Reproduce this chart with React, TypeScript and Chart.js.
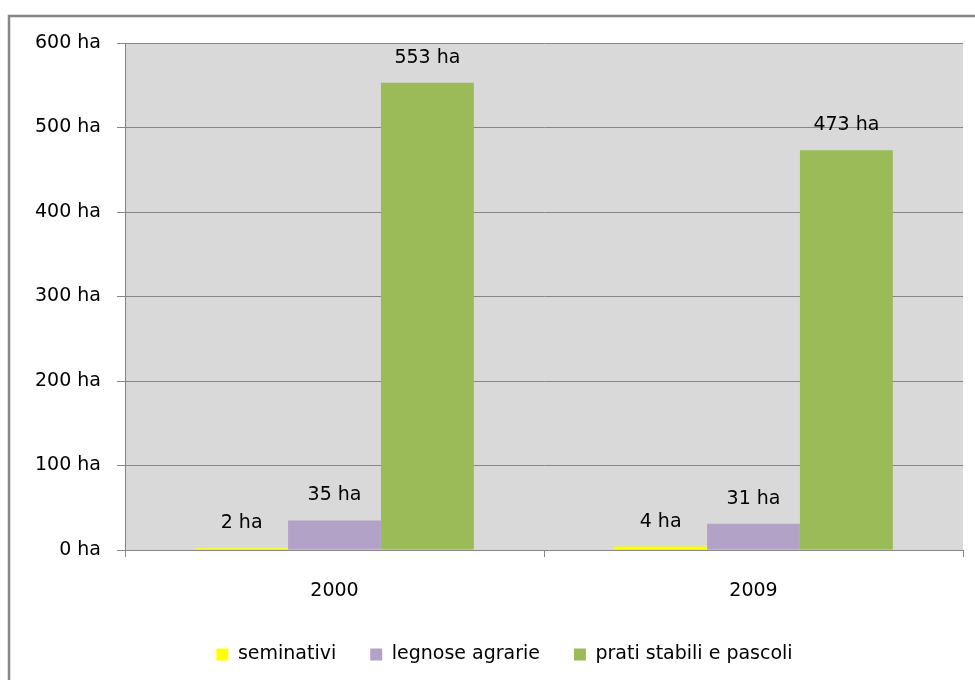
import React, { useEffect, useRef } from "react";
import { Chart, registerables } from "chart.js";

Chart.register(...registerables);

const categories = ["2000", "2009"];
const seriesNames = ["seminativi", "legnose agrarie", "prati stabili e pascoli"];
const seminativi = [2, 4];
const legnose = [35, 31];
const prati = [553, 473];
const seriesColors = ["#ffff00", "#b3a2c7", "#9bbb59"];
const yTicks = [0, 100, 200, 300, 400, 500, 600];

const FONT = "'DejaVu Sans'";
const SIZE = 19;

const framePlugin = {
  id: "frameAndBg",
  afterLayout(chart: any) {
    if (chart.legend) {
      chart.legend.left += 23;
      chart.legend.right += 23;
    }
  },
  beforeDraw(chart: any) {
    const { ctx, chartArea } = chart;
    ctx.save();
    ctx.fillStyle = "#ffffff";
    ctx.fillRect(0, 0, chart.width, chart.height);
    ctx.strokeStyle = "#878787";
    ctx.lineWidth = 2.5;
    ctx.strokeRect(9, 16, chart.width + 50, chart.height + 50);
    ctx.fillStyle = "#d9d9d9";
    ctx.fillRect(chartArea.left, chartArea.top, chartArea.right - chartArea.left, chartArea.bottom - chartArea.top);
    ctx.restore();
  },
};

const labelPlugin = {
  id: "valueLabels",
  afterDatasetsDraw(chart: any) {
    const { ctx } = chart;
    ctx.save();
    ctx.font = `${SIZE}px ${FONT}`;
    ctx.fillStyle = "#000000";
    ctx.textAlign = "center";
    ctx.textBaseline = "middle";
    chart.data.datasets.forEach((ds: any, i: number) => {
      const meta = chart.getDatasetMeta(i);
      meta.data.forEach((bar: any, j: number) => {
        ctx.fillText(`${ds.data[j]} ha`, bar.x, bar.y - 25);
      });
    });
    ctx.restore();
  },
};

export default function App() {
  const ref = useRef<HTMLCanvasElement>(null);
  useEffect(() => {
    if (!ref.current) return;
    const values = [seminativi, legnose, prati];
    const chart = new Chart(ref.current, {
      type: "bar",
      data: {
        labels: categories,
        datasets: seriesNames.map((name, i) => ({
          label: name,
          data: values[i],
          backgroundColor: seriesColors[i],
          borderWidth: 0,
          categoryPercentage: 0.665,
          barPercentage: 1,
        })),
      },
      options: {
        animation: false,
        responsive: false,
        layout: { padding: { top: 43, right: 12, left: 0, bottom: 6 } },
        plugins: {
          legend: {
            position: "bottom",
            labels: {
              font: { family: FONT, size: SIZE },
              color: "#000",
              boxWidth: 12,
              boxHeight: 12,
              padding: 34,
            },
          },
          tooltip: { enabled: false },
        },
        scales: {
          x: {
            grid: {
              drawOnChartArea: false,
              drawTicks: true,
              tickLength: 7,
              color: "#868686",
              offset: true,
            },
            border: { color: "#868686" },
            ticks: { font: { family: FONT, size: SIZE }, color: "#000", padding: 23 },
            afterFit(scale: any) {
              scale.height = 61;
            },
          },
          y: {
            min: 0,
            max: 600,
            afterBuildTicks(scale: any) {
              scale.ticks = yTicks.map((v) => ({ value: v }));
            },
            grid: { color: "#868686", tickLength: 8 },
            border: { color: "#868686" },
            ticks: {
              font: { family: FONT, size: SIZE },
              color: "#000",
              padding: 16,
              callback: (v: any) => `${v} ha`,
            },
            afterFit(scale: any) {
              scale.width = 125;
            },
          },
        },
      },
      plugins: [framePlugin, labelPlugin],
    });
    return () => chart.destroy();
  }, []);
  return (
    <div style={{ position: "fixed", left: 0, top: 0, width: 975, height: 680, background: "#fff" }}>
      <canvas ref={ref} width={975} height={680} style={{ display: "block" }} />
    </div>
  );
}
